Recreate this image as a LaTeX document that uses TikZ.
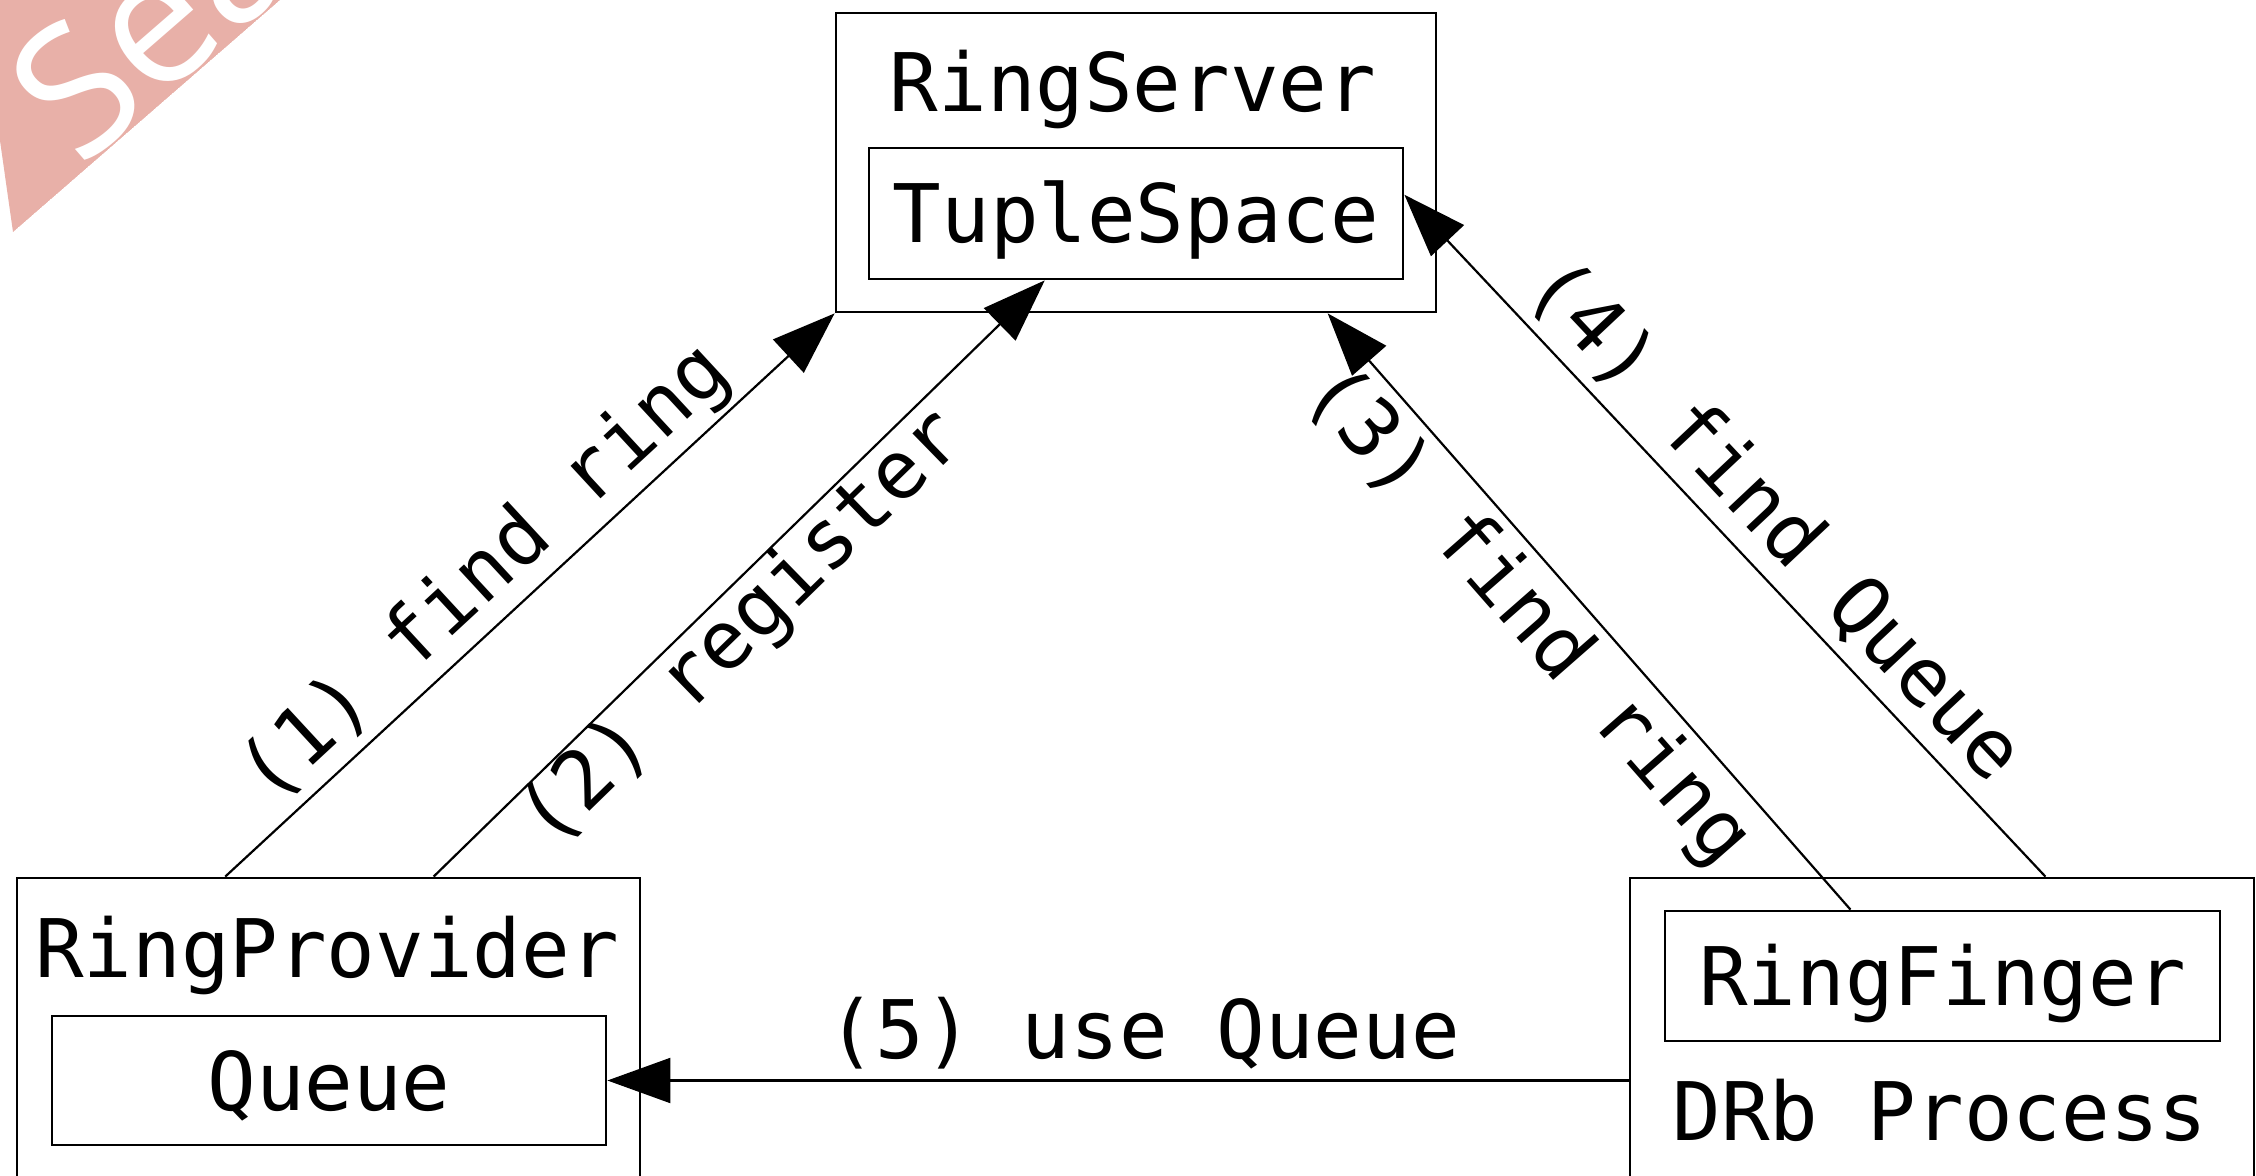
\documentclass[tikz,border=0pt]{standalone}
\usepackage{fontspec}
\newfontfamily\diagfont{DejaVu Sans Mono}
\newfontfamily\markfont{Open Sans}
\usetikzlibrary{arrows.meta,calc}
\definecolor{markpink}{RGB}{232,176,168}
\begin{document}
\begin{tikzpicture}[x=0.5pt,y=-0.5pt,
  txt/.style={font=\diagfont\fontsize{40.4}{48}\selectfont},
  box/.style={draw, line width=1.4pt, inner sep=0pt},
  inbox/.style={box, txt, text height=29.5pt, text depth=0pt},
  title/.style={txt, anchor=base, inner sep=0pt},
  conn/.style={line width=1.1pt, -{Triangle[length=31.5pt,width=22.5pt]}},
  lbl/.style={txt, sloped, inner xsep=0pt, text height=29.5pt, text depth=0pt},
  lblabove/.style={lbl, anchor=south, inner ysep=10.5pt},
  lblbelow/.style={lbl, anchor=north, inner ysep=#1},
  lblbelow/.default=1pt]
\useasboundingbox (0,0) rectangle (2256,1176);
\clip (0,0) rectangle (2256,1176);

% corner ribbon
\begin{scope}
  \clip (-20,0) -- (13,232) -- (280,0) -- cycle;
  \fill[markpink] (-20,0) -- (13,232) -- (280,0) -- cycle;
  \node[text=white, font=\markfont\fontsize{90}{94}\selectfont, rotate=41,
        anchor=base west, inner sep=0pt] (mark) at (80,170) {Sea};
\end{scope}

% RingServer with its TupleSpace
\node[box, minimum width=300pt, minimum height=149.5pt] (srv) at (1136,162.5) {};
\node[title] (srvt) at (1133,112) {RingServer};
\node[inbox, minimum width=267pt, minimum height=65.5pt] (ts) at (1136,213.5) {TupleSpace};

% RingProvider with its Queue
\node[box, minimum width=311.5pt, minimum height=191pt] (prov) at (328.5,1069) {};
\node[title] (provt) at (327,977) {RingProvider};
\node[inbox, minimum width=277pt, minimum height=64.5pt] (queue) at (329,1080.5) {Queue};

% DRb process holding the RingFinger
\node[box, minimum width=312pt, minimum height=191pt] (drb) at (1942,1069) {};
\node[inbox, minimum width=277.5pt, minimum height=65pt] (rf) at (1942.5,976) {RingFinger};
\node[title] (drbt) at (1940,1140) {DRb Process};

% messages
\draw[conn] ($(prov.north west)!0.335!(prov.north east)$) -- (srv.south west)
  node[lblabove, pos=0.478] {(1) find ring};
\draw[conn] ($(prov.north west)!0.668!(prov.north east)$) -- ($(ts.south west)!0.33!(ts.south east)$)
  node[lblbelow, pos=0.462] {(2) register};
\draw[conn] ($(rf.north west)!0.335!(rf.north east)$) -- ($(srv.south west)!0.818!(srv.south east)$)
  node[lblbelow=6pt, pos=0.547] {(3) find ring};
\draw[conn] ($(drb.north west)!0.665!(drb.north east)$) -- ($(ts.north east)!0.36!(ts.south east)$)
  node[lblabove, pos=0.475] {(4) find Queue};
\draw[conn] (queue.east -| drb.west) -- (queue.east)
  node[txt, anchor=south, inner xsep=0pt, inner ysep=10.5pt, text depth=0pt, pos=0.475] {(5) use Queue};
\end{tikzpicture}
\end{document}
